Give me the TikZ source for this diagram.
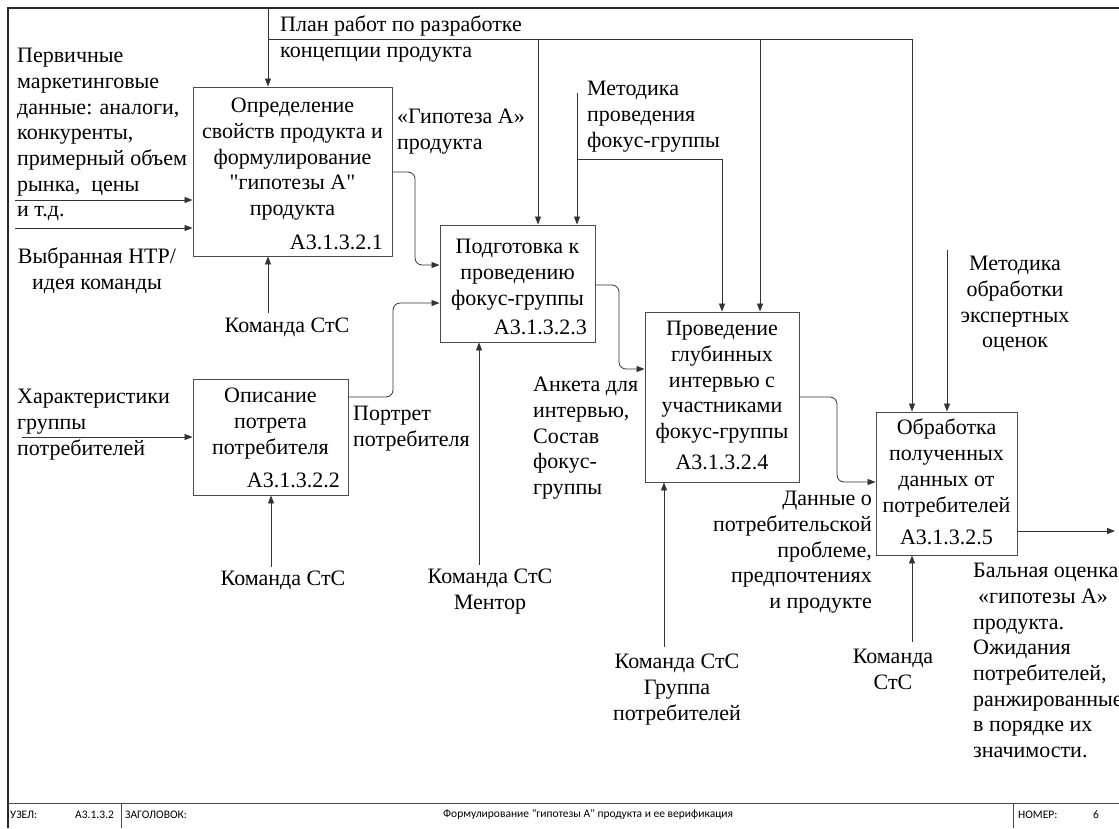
\documentclass[tikz,border=0pt]{standalone}
\usepackage{fontspec}
\setmainfont{Liberation Serif}[Ligatures=TeXOff]
\newfontfamily\barfont{Carlito}[Ligatures=TeXOff]
\usetikzlibrary{arrows.meta,positioning,calc}

\begin{document}
\begin{tikzpicture}[x=1pt, y=-1pt, >={Triangle[length=8pt,width=6pt]},
  txt/.style={font=\fontsize{22}{25.7}\selectfont, inner sep=0pt},
  fnbox/.style={draw=black!70, line width=0.9pt, inner sep=0pt},
  fntitle/.style={txt, align=center, anchor=north},
  fnnum/.style={txt, anchor=mid east},
  lbl/.style={txt, align=left, anchor=north west},
  clbl/.style={txt, align=center, anchor=north},
  flow/.style={draw=black!80, line width=0.8pt},
  elbow/.style={flow, rounded corners=7pt},
  barlbl/.style={font=\barfont\fontsize{11.5}{13}\selectfont, inner sep=0pt, anchor=west}]

  \useasboundingbox (0,0) rectangle (1119,828);

  % Frame and title bar
  \draw[black!85, line width=1.4pt] (8,828) -- (8,8) -- (1119,8);
  \draw[black!70, line width=1pt] (8,803) -- (1119,803);
  \draw[black!70, line width=1pt] (121,803) -- (121,828);
  \draw[black!70, line width=1pt] (1013,803) -- (1013,828);
  \node[barlbl] (uzel) at (10,815) {УЗЕЛ:};
  \node[barlbl] (uzelnum) at (75,815) {A3.1.3.2};
  \node[barlbl] (zag) at (125,815) {ЗАГОЛОВОК:};
  \node[barlbl] (zagtxt) at (443,815) {Формулирование "гипотезы А" продукта и ее верификация};
  \node[barlbl] (nomer) at (1018,815) {НОМЕР:};
  \node[barlbl] (nomernum) at (1093,815) {6};

  % Function boxes
  \node[fnbox, minimum width=199pt, minimum height=169pt] (box1) at (292.5,171.5) {};
  \node[fnbox, minimum width=155pt, minimum height=116pt] (box2) at (270.5,437) {};
  \node[fnbox, minimum width=155pt, minimum height=117pt] (box3) at (517.5,283.5) {};
  \node[fnbox, minimum width=154pt, minimum height=170pt] (box4) at (722,397) {};
  \node[fnbox, minimum width=141pt, minimum height=143pt] (box5) at (946.5,483.5) {};

  \node[fntitle] (t1) at (292.5,98) {Определение\\свойств продукта и\\формулирование\\"гипотезы А"\\продукта};
  \node[fntitle] (t2) at (270.5,388) {Описание\\потрета\\потребителя};
  \node[fntitle] (t3) at (517.5,239) {Подготовка к\\проведению\\фокус-группы};
  \node[fntitle] (t4) at (722,321) {Проведение\\глубинных\\интервью с\\участниками\\фокус-группы};
  \node[fntitle] (t5) at (946.5,419) {Обработка\\полученных\\данных от\\потребителей};

  \node[fnnum] (n1) at (383,247) {A3.1.3.2.1};
  \node[fnnum] (n2) at (340,485) {A3.1.3.2.2};
  \node[fnnum] (n3) at (587,332) {A3.1.3.2.3};
  \node[fnnum, anchor=mid] (n4) at (722,467) {A3.1.3.2.4};
  \node[fnnum, anchor=mid] (n5) at (946.5,542) {A3.1.3.2.5};

  % Arrow labels
  \node[lbl] (inmark) at (17,48) {Первичные\\маркетинговые\\данные: аналоги,\\конкуренты,\\примерный объем\\рынка,~ цены\\и т.д.};
  \node[clbl] (inidea) at (97,248) {Выбранная НТР/\\идея команды};
  \node[lbl] (plan) at (280,16) {План работ по разработке\\концепции продукта};
  \node[lbl] (hypo) at (397,109) {«Гипотеза А»\\продукта};
  \node[lbl] (metfg) at (587,81) {Методика\\проведения\\фокус-группы};
  \node[clbl] (metexp) at (1015,256) {Методика\\обработки\\экспертных\\оценок};
  \node[clbl] (team1) at (287,318) {Команда СтС};
  \node[lbl] (inchar) at (17,389) {Характеристики\\группы\\потребителей};
  \node[lbl] (portr) at (353,406) {Портрет\\потребителя};
  \node[clbl] (team2) at (283,571) {Команда СтС};
  \node[clbl] (team3) at (490,569) {Команда СтС\\Ментор};
  \node[lbl] (anketa) at (533,377) {Анкета для\\интервью,\\Состав\\фокус-\\группы};
  \node[txt, align=right, anchor=north east] (dannye) at (872,491) {Данные о\\потребительской\\проблеме,\\предпочтениях\\и продукте};
  \node[clbl] (team4) at (677,654) {Команда СтС\\Группа\\потребителей};
  \node[clbl] (team5) at (893,649) {Команда\\СтС};
  \node[lbl] (score) at (973,563) {Бальная оценка\\\hspace*{5pt}«гипотезы А»\\продукта.\\Ожидания\\потребителей,\\ранжированные\\в порядке их\\значимости.};

  % Free ends
  \coordinate (in1a) at (15,200);
  \coordinate (in1b) at (15,228);
  \coordinate (in2) at (22,437);
  \coordinate (ctlplan) at (268,8);
  \coordinate (planbus) at (268,39);
  \coordinate (ctlmet) at (577,93);
  \coordinate (metbus) at (577,159);
  \coordinate (ctlexp) at (947,250);
  \coordinate (m1) at (268,313);
  \coordinate (m2) at (271,567);
  \coordinate (m3) at (479,565);
  \coordinate (m4) at (664,647);
  \coordinate (m5) at (912,642);
  \coordinate (out5) at (1115,531);

  % Inputs
  \draw[flow,->] (in1a) -- (in1a -| box1.west);
  \draw[flow,->] (in1b) -- (in1b -| box1.west);
  \draw[flow,->] (in2) -- (in2 -| box2.west);

  % Controls
  \draw[flow,->] (ctlplan) -- (ctlplan |- box1.north);
  \draw[flow,->] (planbus) -| (912,0 |- box5.north);
  \foreach \x/\b in {538/box3, 760/box4}
    \draw[flow,->] (\x,39) -- (\x,0 |- \b.north);
  \draw[flow,->] (ctlmet) -- (ctlmet |- box3.north);
  \draw[flow,->] (metbus) -| (722,0 |- box4.north);
  \draw[flow,->] (ctlexp) -- (ctlexp |- box5.north);

  % Outputs between boxes
  \draw[elbow,->] (box1.east |- 0,172) -- (415,172) |- (box3.west |- 0,265);
  \draw[elbow,->] (box2.east |- 0,397) -- (393,397) |- (box3.west |- 0,303);
  \draw[elbow,->] (box3.east |- 0,285) -- (619,285) |- (box4.west |- 0,369);
  \draw[elbow,->] (box4.east |- 0,397) -- (837,397) |- (box5.west |- 0,482);
  \draw[flow,->] (box5.east |- out5) -- (out5);

  % Mechanisms
  \foreach \m/\b in {m1/box1, m2/box2, m3/box3, m4/box4, m5/box5}
    \draw[flow,->] (\m) -- (\m |- \b.south);
\end{tikzpicture}
\end{document}
